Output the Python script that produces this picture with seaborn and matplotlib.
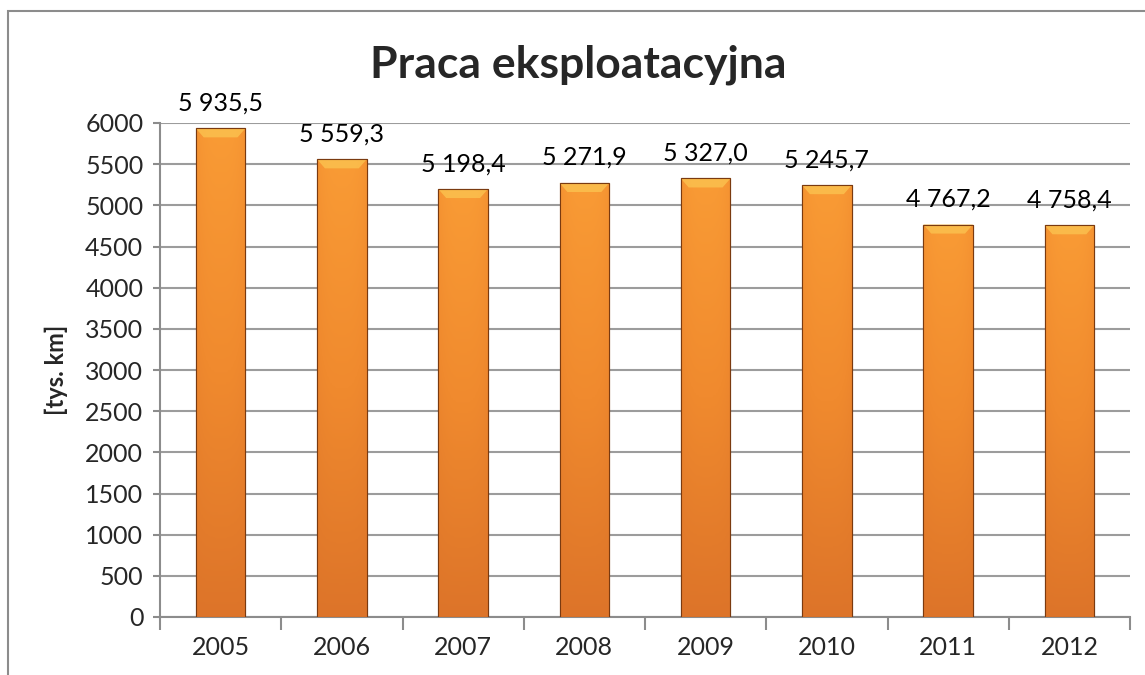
import numpy as np
import pandas as pd
import seaborn as sns
import matplotlib.pyplot as plt
from matplotlib.patches import Rectangle, Polygon
from matplotlib.colors import LinearSegmentedColormap

years = ["2005", "2006", "2007", "2008", "2009", "2010", "2011", "2012"]
values = [5935.5, 5559.3, 5198.4, 5271.9, 5327.0, 5245.7, 4767.2, 4758.4]
yticks = [0, 500, 1000, 1500, 2000, 2500, 3000, 3500, 4000, 4500, 5000, 5500, 6000]

df = pd.DataFrame({"Rok": years, "Praca": values})

sns.set_style("white")
plt.rcParams['font.family'] = ['Lato', 'DejaVu Sans']

fig = plt.figure(figsize=(11.45, 6.75), dpi=100)
ax = fig.add_axes([160/1145, 1 - 617/675, 970/1145, 494/675])

bars = sns.barplot(data=df, x="Rok", y="Praca", color="#F7952F", width=0.41,
                   edgecolor="#7A3A10", linewidth=0.8, ax=ax, zorder=3)

ax.set_ylim(0, 6000)
ax.set_xlim(-0.5, 7.5)
ax.set_yticks(yticks)
ax.yaxis.grid(True, color="#9C9C9C", linewidth=1.5, zorder=0)
ax.set_axisbelow(True)

# gradient fill clipped to each bar
grad_cmap = LinearSegmentedColormap.from_list("orng", ["#DD7429", "#F08A2E", "#F99B35"])
vert = np.linspace(0, 1, 200)[:, None]
horiz = 1 - 0.25 * np.abs(np.linspace(-1, 1, 60))[None, :] ** 3
img = vert * horiz
for p in ax.patches:
    x0, w, h = p.get_x(), p.get_width(), p.get_height()
    im = ax.imshow(img, cmap=grad_cmap, aspect="auto", origin="lower",
                   extent=[x0, x0 + w, 0, h], zorder=3.5, vmin=0, vmax=1)
    im.set_clip_path(p)
    d = 110
    ins = w * 0.16
    bevel = Polygon([[x0, h], [x0 + w, h], [x0 + w - ins, h - d], [x0 + ins, h - d]],
                    closed=True, facecolor="#FBC04E", edgecolor="none", alpha=0.85, zorder=3.6)
    ax.add_patch(bevel)
    edge = Rectangle((x0, 0), w, h, fill=False, edgecolor="#7A3A10", linewidth=0.8, zorder=3.7)
    ax.add_patch(edge)

labels = [f"{v:,.1f}".replace(",", " ").replace(".", ",") for v in values]
ax.bar_label(ax.containers[0], labels=labels, padding=10, fontsize=18, color="#000000")

ax.set_xlabel("")
ax.set_ylabel("[tys. km]", fontsize=17, fontweight="bold", labelpad=12)
fig.text(0.505, 1 - 65/675, "Praca eksploatacyjna", fontsize=32, fontweight="bold",
         ha="center", va="center")

for s in ["top", "right"]:
    ax.spines[s].set_visible(False)
for s in ["left", "bottom"]:
    ax.spines[s].set_color("#8C8C8C")
    ax.spines[s].set_linewidth(1.5)

ax.tick_params(axis="y", which="major", length=5, width=1.5, color="#8C8C8C",
               labelsize=18, pad=7, left=True)
ax.tick_params(axis="x", which="major", length=0, labelsize=18, pad=14)
ax.set_xticks(np.arange(-0.5, 8, 1), minor=True)
ax.tick_params(axis="x", which="minor", length=9, width=1.5, color="#8C8C8C", bottom=True)

# outer chart frame
fig.patches.append(Rectangle((8/1145, -0.1), 1.2, 1.1 - 11/675, transform=fig.transFigure,
                             fill=False, edgecolor="#8C8C8C", linewidth=1.5))

fig.savefig("out.png", dpi=100)
